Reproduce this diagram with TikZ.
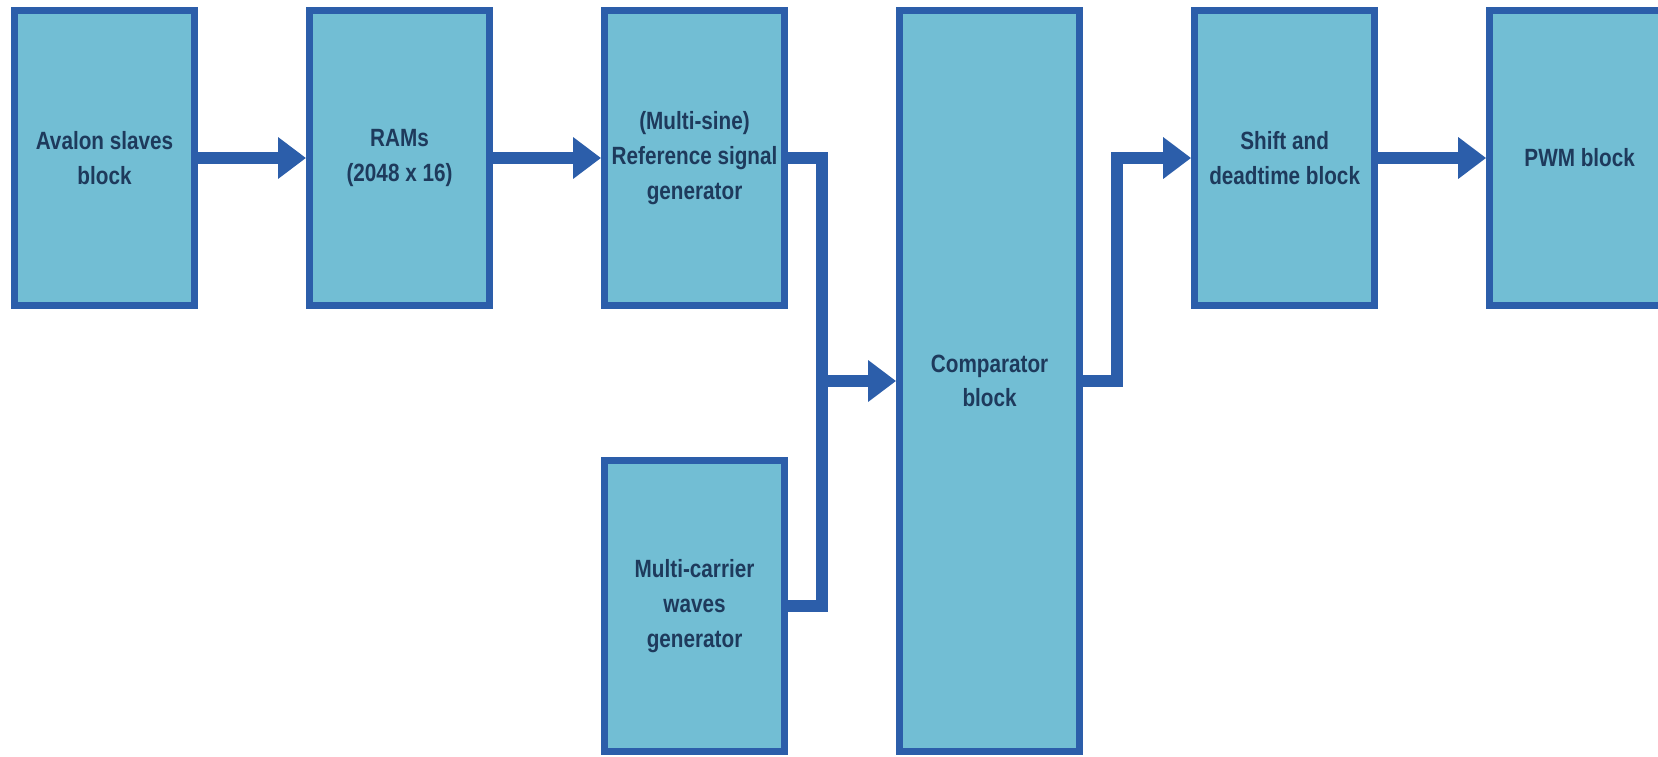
\documentclass[tikz,border=0pt]{standalone}
\usepackage{fontspec}
\newfontfamily\blockfont[FakeStretch=0.83]{Liberation Sans}
\usepackage{tikz}
\usetikzlibrary{positioning,arrows.meta,calc}
\definecolor{boxfill}{RGB}{114,190,212}
\definecolor{boxline}{RGB}{44,94,170}
\definecolor{boxtext}{RGB}{30,58,92}

\begin{document}
\begin{tikzpicture}[
  block/.style={draw=boxline, fill=boxfill, line width=2pt, minimum width=1.8cm, minimum height=2.95cm, inner sep=0pt, align=center, text=boxtext, font=\blockfont\bfseries\fontsize{7.1}{9.9}\selectfont},
  wire/.style={draw=boxline, line width=3.4pt, line join=miter},
  arrow/.style={wire, -{Triangle[length=2.8mm, width=4mm]}},
]
\useasboundingbox (0,0) rectangle (16.58,-7.56);
\clip (0,0) rectangle (16.58,-7.56);

\node[block] (avalon) at (1.045,-1.58) {Avalon slaves\\block};
\node[block, right=1.08cm of avalon] (rams) {RAMs\\(2048 x 16)};
\node[block, right=1.08cm of rams] (refgen) {(Multi-sine)\\Reference signal\\generator};
\node[block, minimum height=7.41cm, right=1.08cm of refgen.north east, anchor=north west] (comp) {Comparator\\block};
\node[block, minimum height=2.91cm, below=1.48cm of refgen] (carrier) {Multi-carrier\\waves\\generator};
\node[block, right=1.08cm of comp.north east, anchor=north west] (shift) {Shift and\\deadtime block};
\node[block, right=1.08cm of shift] (pwm) {PWM block};

\path (refgen.east) ++(0.34,0) coordinate (bend);
\coordinate (join) at (bend |- comp.west);

\draw[arrow] (avalon) -- (rams);
\draw[arrow] (rams) -- (refgen);
\draw[wire] (refgen.east) -| (join) |- (carrier.east);
\draw[arrow] (join) -- (comp);
\draw[arrow] (comp.east) -- ++(0.34,0) |- (shift.west);
\draw[arrow] (shift) -- (pwm);
\end{tikzpicture}
\end{document}
